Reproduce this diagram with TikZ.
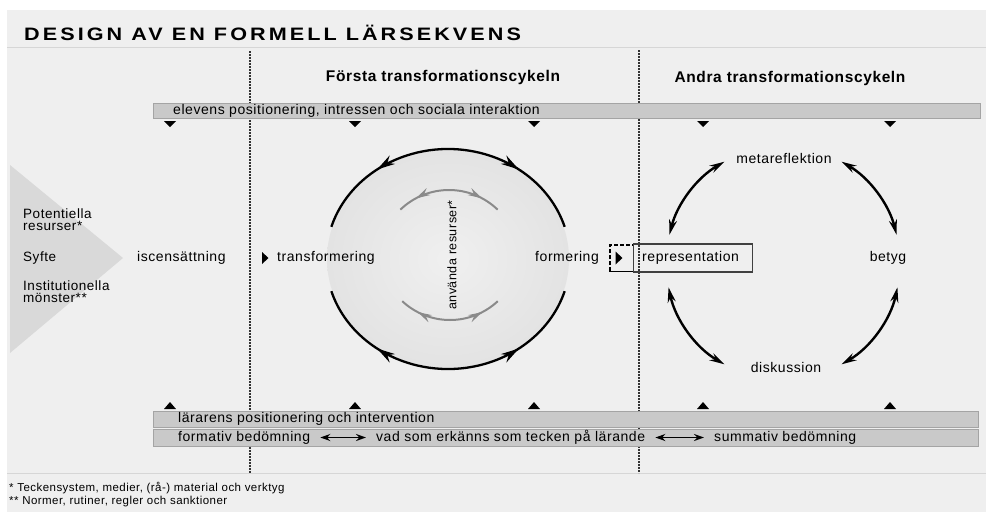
\documentclass[tikz,border=0pt]{standalone}
\usepackage{fontspec}
\setmainfont{Liberation Sans}[LetterSpace=4]
\newfontfamily\titlefont{Liberation Sans}[LetterSpace=17, FakeStretch=1.2]
\usetikzlibrary{arrows.meta,decorations.markings,calc}
\definecolor{bgray}{HTML}{EFEFEF}
\definecolor{sepgray}{HTML}{D6D6D6}
\definecolor{barfill}{HTML}{C9C9C9}
\definecolor{barline}{HTML}{A4A4A4}
\definecolor{wedge}{HTML}{D9D9D9}
\definecolor{innerarc}{HTML}{8A8A8A}
\begin{document}
\begin{tikzpicture}[x=1pt,y=-1pt,
  lbl/.style={inner sep=0pt, font=\fontsize{14}{14}\selectfont},
  sidelbl/.style={inner sep=0pt, align=left, font=\fontsize{13.5}{12}\selectfont},
  head/.style={inner sep=0pt, font=\bfseries\fontsize{15.5}{16}\selectfont},
  note/.style={inner sep=0pt, anchor=base west, font=\fontsize{11.5}{12}\selectfont},
  bar/.style={draw=barline, fill=barfill, line width=0.8pt, inner sep=0pt, anchor=north west},
  divider/.style={line width=1.6pt, dash pattern=on 1.6pt off 1.4pt, black!80},
  bigarc/.style={line width=2.3pt, black},
  smallarc/.style={line width=2pt, innerarc},
  cyc/.style={line width=2.4pt, black, {Stealth[length=15pt,width=8pt]}-{Stealth[length=15pt,width=8pt]}},
  dbl/.style={line width=1.8pt, black, {Stealth[length=10pt,width=7pt]}-{Stealth[length=10pt,width=7pt]}},
  outheads/.style n args={3}{postaction={decorate}, decoration={markings,
      mark=at position #1 with {\arrowreversed{Stealth[length=#3,width=0.55*#3]}},
      mark=at position #2 with {\arrow{Stealth[length=#3,width=0.55*#3]}}}}
]
\useasboundingbox (0,0) rectangle (986,512);
\fill[white] (0,0) rectangle (986,512);
\fill[bgray] (7,10) rectangle (986,512);
\draw[sepgray, line width=1pt] (7,47) -- (986,47);
\draw[sepgray, line width=1pt] (7,473) -- (986,473);

% title
\node[anchor=base west, inner sep=0pt, font=\titlefont\bfseries\fontsize{18}{20}\selectfont] (title) at (24,40) {DESIGN AV EN FORMELL LÄRSEKVENS};

% dotted dividers between the phases
\coordinate (d1top) at (250,51);
\coordinate (d1bot) at (250,473);
\coordinate (d2top) at (639,50);
\coordinate (d2bot) at (639,473);
\draw[divider] (d1top) -- (d1bot);
\draw[divider] (d2top) -- (d2bot);

% column headings
\node[head] (h1) at (443,77) {Första transformationscykeln};
\node[head] (h2) at (790,78) {Andra transformationscykeln};

% bars
\node[bar, minimum width=827, minimum height=15] (topbar) at (153,103) {};
\node[lbl, anchor=west] (elev) at (173,110.5) {elevens positionering, intressen och sociala interaktion};
\node[bar, minimum width=825, minimum height=16] (bar1) at (153,411) {};
\node[bar, minimum width=825, minimum height=17] (bar2) at (153,429) {};
\node[lbl, anchor=west] (lar) at (178,419) {lärarens positionering och intervention};
\node[lbl, anchor=west] (form) at (178,437.5) {formativ bedömning};
\node[lbl, anchor=west] (vad) at (376,437.5) {vad som erkänns som tecken på lärande};
\node[lbl, anchor=west] (summ) at (714,437.5) {summativ bedömning};
\draw[dbl] ($(form.east)+(10,0)$) -- ($(vad.west)+(-10,0)$);
\draw[dbl] ($(vad.east)+(10,0)$) -- ($(summ.west)+(-10,0)$);

% markers below and above the bars
\foreach \x in {170,355,534,703,890}{
  \fill[black] (\x-6,121) -- (\x+6,121) -- (\x,127) -- cycle;
  \fill[black] (\x-6,409) -- (\x+6,409) -- (\x,402) -- cycle;
}

% left wedge with starting resources
\fill[wedge] (10,165) -- (123,258) -- (10,353) -- cycle;
\node[sidelbl, anchor=west] (pot) at (23,220) {Potentiella\\resurser*};
\node[sidelbl, anchor=west] (syfte) at (23,258) {Syfte};
\node[sidelbl, anchor=west] (inst) at (23,292) {Institutionella\\mönster**};
\node[lbl, anchor=west] (isc) at (137,258) {iscensättning};

% first transformation cycle
\coordinate (lc) at (448,259);
\shade[inner color=black!6, outer color=black!11] (lc) ellipse [x radius=121, y radius=109];
\draw[bigarc, outheads={0.25}{0.75}{18pt}]
  ([shift={(-163:122 and 110)}]lc) arc[start angle=-163, end angle=-17, x radius=122, y radius=110];
\draw[bigarc, outheads={0.25}{0.75}{18pt}]
  ([shift={(-197:122 and 110)}]lc) arc[start angle=-197, end angle=-343, x radius=122, y radius=110];
\coordinate (ic1) at (449,260);
\coordinate (ic2) at (450,250);
\draw[smallarc, outheads={0.18}{0.82}{14pt}]
  ([shift={(-134:70)}]ic1) arc[start angle=-134, end angle=-46, radius=70];
\draw[smallarc, outheads={0.18}{0.82}{14pt}]
  ([shift={(-227:70)}]ic2) arc[start angle=-227, end angle=-313, radius=70];
\node[inner sep=0pt, rotate=90, font=\fontsize{12.5}{13}\selectfont] (anv) at (452,255) {använda resurser*};
\fill[black] (262,252) -- (268.5,258) -- (262,264) -- cycle;
\node[lbl, anchor=west] (trans) at (277,258) {transformering};
\node[lbl, anchor=west] (form1) at (535,258) {formering};

% hand-over to the second cycle
\node[draw=black!75, line width=1.2pt, inner sep=0pt, minimum width=119, minimum height=28, anchor=west] (repbox) at (633,258) {};
\node[lbl, anchor=west] (rep) at (642,258) {representation};
\draw[black, line width=1.8pt, dash pattern=on 4pt off 2pt] (610,271) -- (610,245) -- (633,245);
\draw[black, line width=1.8pt] (609,271.5) -- (633,271.5);
\fill[black] (615.5,251.5) -- (622.5,258) -- (615.5,264.5) -- cycle;

% second transformation cycle
\coordinate (rc) at (783,263);
\node[lbl] (meta) at (784,158) {metareflektion};
\node[lbl] (betyg) at (888,258) {betyg};
\node[lbl] (disk) at (786,367) {diskussion};
\draw[cyc] ([shift={(-120:117)}]rc) arc[start angle=-120, end angle=-166, radius=117];
\draw[cyc] ([shift={(-60:117)}]rc) arc[start angle=-60, end angle=-14, radius=117];
\draw[cyc] ([shift={(60:117)}]rc) arc[start angle=60, end angle=12, radius=117];
\draw[cyc] ([shift={(120:117)}]rc) arc[start angle=120, end angle=168, radius=117];

% footnotes
\node[note] (fn1) at (9,491) {* Teckensystem, medier, (rå-) material och verktyg};
\node[note] (fn2) at (9,504) {** Normer, rutiner, regler och sanktioner};
\end{tikzpicture}
\end{document}
